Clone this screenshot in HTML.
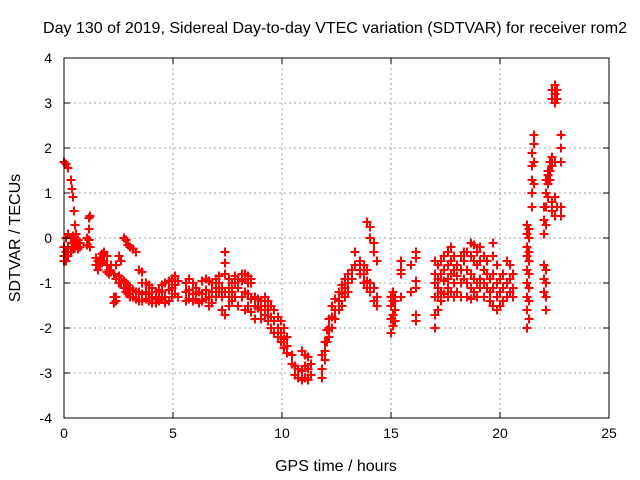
<!DOCTYPE html>
<html><head><meta charset="utf-8"><style>
html,body{margin:0;padding:0;background:#fff;}
svg{display:block;font-family:"Liberation Sans",sans-serif;}
</style></head><body>
<svg id="chart" width="640" height="480">
<text x="335" y="33" text-anchor="middle" font-size="16">Day 130 of 2019, Sidereal Day-to-day VTEC variation (SDTVAR) for receiver rom2</text>
<text x="336" y="471" text-anchor="middle" font-size="16">GPS time / hours</text>
<text transform="translate(20,238) rotate(-90)" text-anchor="middle" font-size="16">SDTVAR / TECUs</text>
<g id="grid"></g>
<g id="points"></g>
<rect x="64" y="58" width="545" height="360" fill="none" stroke="#000" stroke-width="1"/>
<g id="ticks"></g>
</svg>
<script>
const xTicks = [0, 5, 10, 15, 20, 25];
const yTicks = [-4, -3, -2, -1, 0, 1, 2, 3, 4];
const sampleTimes = [0.00,0.10,0.20,0.30,0.35,0.40,0.45,0.50,0.55,0.65,0.75,1.05,1.15,1.20,1.45,1.55,1.65,1.75,1.85,1.95,2.05,2.15,2.3,2.4,2.5,2.6,2.75,2.85,2.95,3.05,3.15,3.3,3.45,3.6,3.75,3.9,4.05,4.2,4.35,4.5,4.65,4.8,4.95,5.1,5.25,5.6,5.75,5.9,6.05,6.2,6.35,6.5,6.65,6.8,6.95,7.1,7.25,7.4,7.55,7.7,7.85,8.0,8.15,8.3,8.45,8.6,8.75,8.9,9.05,9.2,9.35,9.5,9.65,9.8,9.95,10.1,10.25,10.45,10.6,10.75,10.9,11.05,11.2,11.35,11.85,11.95,12.05,12.15,12.3,12.45,12.6,12.75,12.9,13.05,13.2,13.35,13.6,13.75,13.9,14.05,14.2,14.35,15.0,15.1,15.2,15.45,15.9,16.15,17.0,17.15,17.3,17.45,17.6,17.75,17.9,18.05,18.2,18.35,18.5,18.65,18.8,18.95,19.1,19.25,19.4,19.55,19.7,19.85,20.0,20.15,20.3,20.45,20.6,21.25,21.35,21.45,21.55,22.0,22.1,22.2,22.3,22.4,22.5,22.6,22.8];
const sampleValues = [
[1.7,-0.4,-0.5,-0.2],[1.65,0,-0.3,-0.5],[1.55,0.1,-0.2,-0.4],[1.3,0,-0.3],[1.1,-0.1],[0.9,0.05,-0.25],[0.6,-0.1],[0.3,0,-0.2],[0.1,-0.15],[-0.05,-0.25],[-0.1,-0.2],[0.0,-0.15],[0.45,0.2,-0.05],[0.5,-0.2],
[-0.6,-0.45],[-0.5,-0.7],[-0.45,-0.6],[-0.35,-0.55],[-0.3,-0.5],[-0.4,-0.6,-0.75],[-0.7,-0.8],[-0.75,-0.6],
[-1.3,-1.45,-0.8],[-1.4,-1.3,-0.9,-0.6],[-0.85,-1.0,-0.4],[-0.9,-1.0,-0.5],[-0.0,-0.95,-1.1],[-0.05,-1.0,-1.2],[-0.15,-1.05,-1.25],[-0.2,-1.1,-1.3],[-0.25,-1.15,-1.3],[-0.3,-1.2,-1.35],[-0.7,-1.2,-1.4],[-0.75,-1.0,-1.25,-1.4],[-1.0,-1.2,-1.35],[-1.05,-1.25,-1.4],[-1.1,-1.3,-1.45],[-1.2,-1.35,-1.45],[-1.15,-1.3,-1.4],[-1.05,-1.2,-1.35],[-1.0,-1.3,-1.45],[-0.95,-1.15,-1.4],[-0.9,-1.1,-1.3],[-0.85,-1.05,-1.25],[-0.95,-1.3],
[-1.0,-1.2,-1.4],[-0.9,-1.15,-1.35],[-1.0,-1.25,-1.4],[-1.1,-1.35],[-1.2,-1.45],[-0.95,-1.25,-1.4],[-0.9,-1.15,-1.35],[-0.95,-1.3,-1.5],[-1.0,-1.2,-1.45],[-0.9,-1.1,-1.3],[-0.85,-1.0,-1.2],[-1.1,-1.3,-1.6],[-0.3,-0.55,-0.8,-1.2,-1.7],[-0.9,-1.1,-1.3,-1.5],[-1.0,-1.2,-1.4],[-0.85,-1.0,-1.3],[-0.9,-1.1,-1.5],[-0.8,-0.95,-1.3],[-0.8,-0.9,-1.2,-1.6],[-0.85,-1.0,-1.25,-1.5],[-0.9,-1.0,-1.35,-1.65],[-1.3,-1.5,-1.8],[-1.35,-1.55],
[-1.4,-1.6,-1.8],[-1.3,-1.5,-1.7],[-1.4,-1.6,-1.85],[-1.5,-1.75,-2.0],[-1.6,-1.85,-2.1],[-1.75,-2.0,-2.2],[-1.85,-2.1,-2.3],[-2.0,-2.25,-2.45],[-2.2,-2.4,-2.55],[-2.6,-2.8],[-2.85,-3.05],[-2.9,-3.1],[-2.95,-3.15,-2.5],[-2.6,-2.85,-3.1],[-2.65,-2.9,-3.15],[-2.8,-3.05],
[-2.6,-2.9,-3.1],[-2.3,-2.5,-2.7],[-2.05,-2.3],[-1.8,-2.0,-2.2],[-1.5,-1.75,-2.0],[-1.35,-1.6,-1.8],[-1.2,-1.4,-1.6],[-1.05,-1.25,-1.5],[-0.9,-1.1,-1.3],[-0.8,-1.0,-1.2],[-0.7,-0.9],[-0.3,-0.6],[-0.5,-0.7,-0.8],[-0.6,-0.8,-1.0],[0.35,-0.7,-0.95,-1.1],[0.25,0.0,-1.0,-1.2],[-0.1,-0.3,-1.1,-1.4],[-0.5,-1.3,-1.5],
[-1.3,-1.5,-1.8,-2.1],[-1.2,-1.4,-1.7,-1.95],[-1.4,-1.6,-1.85,-1.3],[-0.5,-0.7,-0.8,-1.3],[-0.6,-1.2],[-0.3,-0.45,-0.95,-1.1,-1.7,-1.85],
[-0.5,-0.8,-1.0,-1.3,-1.7,-2.0],[-0.6,-0.9,-1.1,-1.3,-1.6],[-0.5,-0.8,-1.2,-1.4],[-0.4,-0.7,-0.95,-1.25],[-0.3,-0.6,-0.9,-1.1,-1.3],[-0.2,-0.5,-0.8,-1.2],[-0.4,-0.7,-1.0,-1.3],[-0.6,-0.85,-1.2],[-0.4,-0.7,-1.0,-1.3],[-0.3,-0.5,-0.9],[-0.3,-0.7,-1.0,-1.3],[-0.1,-0.4,-0.8,-1.1,-1.35],[-0.15,-0.5,-0.9,-1.2],[-0.3,-0.6,-1.0,-1.3],[-0.2,-0.5,-0.9,-1.1],[-0.4,-0.7,-1.0,-1.3],[-0.5,-0.8,-1.1],[-0.9,-1.2,-1.4],[-0.1,-0.4,-0.8,-1.1,-1.5],[-0.6,-1.0,-1.3,-1.6],[-0.9,-1.2,-1.5],[-0.8,-1.1,-1.4],[-0.5,-1.0,-1.3],[-0.6,-0.9,-1.2],[-0.8,-1.1,-1.3],
[-2.0,-1.6,-1.3,-1.0,-0.7,-0.4,-0.2,0.1,0.3],[-1.8,-1.4,-1.1,-0.8,-0.5,-0.3,0.0,0.2],[0.7,1.0,1.3,1.6,1.9],[1.2,1.7,2.1,2.3],
[-1.2,-0.9,-0.6,0.1,0.4,0.7],[-1.6,-1.3,-1.0,-0.7,0.3,0.7,1.0,1.3],[0.9,1.2,1.4,1.5],[1.3,1.5,1.7],[0.8,0.6,1.6,1.8,3.1,3.3],[0.5,0.9,1.7,3.0,3.2,3.4],[0.7,3.1,3.3],[0.5,0.7,1.7,2.0,2.3]
];
const NS='http://www.w3.org/2000/svg';
const X0=64,X1=609,Y0=418,Y1=58;
function xs(t){return X0+(t-0)/(25-0)*(X1-X0);}
function ys(v){return Y0-(v+4)/8*(Y0-Y1);}
function mk(tag,attrs,parent){const e=document.createElementNS(NS,tag);for(const k in attrs)e.setAttribute(k,attrs[k]);parent.appendChild(e);return e;}
const grid=document.getElementById('grid'),ticks=document.getElementById('ticks'),pts=document.getElementById('points');
xTicks.forEach(t=>{
  const x=xs(t);
  if(t>0&&t<25){const g=mk('line',{x1:x,x2:x,y1:Y1,y2:Y0,stroke:'#a0a0a0','stroke-dasharray':'2,3'},grid);
  
  }
  mk('line',{x1:x,x2:x,y1:Y0,y2:Y0-6,stroke:'#000'},ticks);
  mk('line',{x1:x,x2:x,y1:Y1,y2:Y1+6,stroke:'#000'},ticks);
  const l=mk('text',{x:x,y:Y0+20,'text-anchor':'middle','font-size':'14'},ticks);
  l.textContent=t;
  
  
});
yTicks.forEach(v=>{
  const y=ys(v);
  if(v>-4&&v<4){const g=mk('line',{x1:X0,x2:X1,y1:y,y2:y,stroke:'#a0a0a0','stroke-dasharray':'2,3'},grid);
  
  }
  mk('line',{x1:X0,x2:X0+6,y1:y,y2:y,stroke:'#000'},ticks);
  mk('line',{x1:X1,x2:X1-6,y1:y,y2:y,stroke:'#000'},ticks);
  const l=mk('text',{x:X0-12,y:y+5,'text-anchor':'end','font-size':'14'},ticks);
  l.textContent=v;
  
  
});
let d='';
sampleTimes.forEach((t,i)=>{
  (sampleValues[i]||[]).forEach(v=>{
    const x=Math.round(xs(t)),y=Math.round(ys(v));
    d+=`M${x-4.5},${y}H${x+4.5}M${x},${y-4.5}V${y+4.5}`;
  });
});
const p=mk('path',{d:d,stroke:'#ff0000','stroke-width':'2',fill:'none'},pts);


</script>
</body></html>
